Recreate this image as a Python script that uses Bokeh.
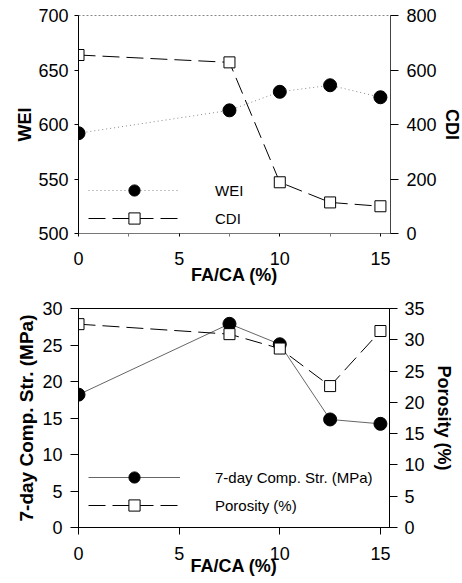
from bokeh.plotting import figure
from bokeh.models import (Range1d, LinearAxis, FixedTicker, Legend, LegendItem)
from bokeh.layouts import column
from bokeh.embed import file_html
from bokeh.resources import INLINE

# ---- data ----
fa_ca = [0, 7.5, 10, 12.5, 15]
wei = [592, 613, 630, 636, 625]
cdi = [655, 628, 188, 114, 100]
comp_str = [18.2, 27.9, 25.1, 14.8, 14.2]
porosity = [32.5, 30.9, 28.6, 22.6, 31.4]

x_ticks = [0, 5, 10, 15]
x_minor = [2.5, 7.5, 12.5]
wei_ticks = [500, 550, 600, 650, 700]
cdi_ticks = [0, 200, 400, 600, 800]
str_ticks = [0, 5, 10, 15, 20, 25, 30]
por_ticks = [0, 5, 10, 15, 20, 25, 30, 35]

FONT = "Liberation Sans"


def style_axis(ax, tick_out, standoff, title_standoff, title_size="18px"):
    ax.major_label_text_font = FONT
    ax.major_label_text_font_size = "18px"
    ax.major_label_text_color = "black"
    ax.axis_label_text_font = FONT
    ax.axis_label_text_font_size = title_size
    ax.axis_label_text_font_style = "bold"
    ax.axis_label_text_color = "black"
    ax.major_tick_in = 0
    ax.major_tick_out = tick_out
    ax.minor_tick_in = 0
    ax.minor_tick_out = 0
    ax.major_label_standoff = standoff
    ax.axis_label_standoff = title_standoff
    ax.axis_line_color = "black"
    ax.major_tick_line_color = "black"


def make_fig(xr, yr, yr2, fw, fh, bl, br, bt, bb):
    p = figure(output_backend="svg", toolbar_location=None,
               frame_width=fw, frame_height=fh,
               min_border_left=bl, min_border_right=br,
               min_border_top=bt, min_border_bottom=bb,
               x_range=xr, y_range=yr)
    p.extra_y_ranges = {"right": yr2}
    p.xgrid.visible = False
    p.ygrid.visible = False
    p.background_fill_color = "white"
    p.border_fill_color = "white"
    return p


def style_legend(lg):
    lg.glyph_width = 92
    lg.glyph_height = 28
    lg.label_height = 20
    lg.spacing = -8
    lg.padding = 0
    lg.margin = 0
    lg.label_standoff = 35
    lg.label_text_font = FONT
    lg.label_text_font_size = "15px"
    lg.label_text_color = "black"
    lg.background_fill_alpha = 0
    lg.border_line_alpha = 0


# ---------------- top chart ----------------
p1 = make_fig(Range1d(0, 15.5), Range1d(500, 700), Range1d(0, 800),
              312, 218, 78, 64, 15, 57)
p1.outline_line_color = "#888888"
p1.outline_line_dash = "2 2"

p1.xaxis.ticker = FixedTicker(ticks=x_ticks, minor_ticks=x_minor)
p1.yaxis.ticker = FixedTicker(ticks=wei_ticks)
p1.xaxis.axis_label = "FA/CA (%)"
p1.yaxis.axis_label = "WEI"
style_axis(p1.xaxis[0], 3, 15, -3)
style_axis(p1.yaxis[0], 4, 6, 0)
p1.xaxis.axis_line_color = "#777777"
p1.xaxis.minor_tick_out = 3
p1.xaxis.minor_tick_line_color = "#777777"

r_ax1 = LinearAxis(y_range_name="right", ticker=FixedTicker(ticks=cdi_ticks),
                   axis_label="CDI")
style_axis(r_ax1, 8, 8, 2)
r_ax1.axis_line_color = "#444444"
p1.add_layout(r_ax1, "right")

l_wei = p1.line(fa_ca, wei, line_color="#888888", line_width=1, line_dash="1 3")
s_wei = p1.scatter(fa_ca, wei, marker="circle", size=13,
                   fill_color="black", line_color="black")
l_cdi = p1.line(fa_ca, cdi, y_range_name="right", line_color="black",
                line_width=1, line_dash="17 7")
s_cdi = p1.scatter(fa_ca, cdi, y_range_name="right", marker="square", size=11,
                   fill_color="white", line_color="black", line_width=1)

leg1 = Legend(items=[LegendItem(label="WEI", renderers=[l_wei, s_wei]),
                     LegendItem(label="CDI", renderers=[l_cdi, s_cdi])],
              location=(10, 1))
style_legend(leg1)
p1.add_layout(leg1)

# ---------------- bottom chart ----------------
p2 = make_fig(Range1d(0, 15.45), Range1d(0, 30), Range1d(0, 35),
              311, 219, 76, 70, 18, 52)
p2.outline_line_color = "black"

p2.xaxis.ticker = FixedTicker(ticks=x_ticks)
p2.yaxis.ticker = FixedTicker(ticks=str_ticks)
p2.xaxis.axis_label = "FA/CA (%)"
p2.yaxis.axis_label = "7-day Comp. Str. (MPa)"
style_axis(p2.xaxis[0], 7, 12, -7)
style_axis(p2.yaxis[0], 8, 8, 2, title_size="19px")

r_ax2 = LinearAxis(y_range_name="right", ticker=FixedTicker(ticks=por_ticks),
                   axis_label="Porosity (%)")
style_axis(r_ax2, 8, 7, 6)
p2.add_layout(r_ax2, "right")

l_str = p2.line(fa_ca, comp_str, line_color="#666666", line_width=1)
s_str = p2.scatter(fa_ca, comp_str, marker="circle", size=13,
                   fill_color="black", line_color="black")
l_por = p2.line(fa_ca, porosity, y_range_name="right", line_color="black",
                line_width=1, line_dash="17 7")
s_por = p2.scatter(fa_ca, porosity, y_range_name="right", marker="square",
                   size=11, fill_color="white", line_color="black", line_width=1)

leg2 = Legend(items=[LegendItem(label="7-day Comp. Str. (MPa)", renderers=[l_str, s_str]),
                     LegendItem(label="Porosity (%)", renderers=[l_por, s_por])],
              location=(10, 8))
style_legend(leg2)
leg2.spacing = -7
p2.add_layout(leg2)

layout = column(p1, p2, spacing=0)
open("out.html", "w").write(file_html(layout, INLINE))
